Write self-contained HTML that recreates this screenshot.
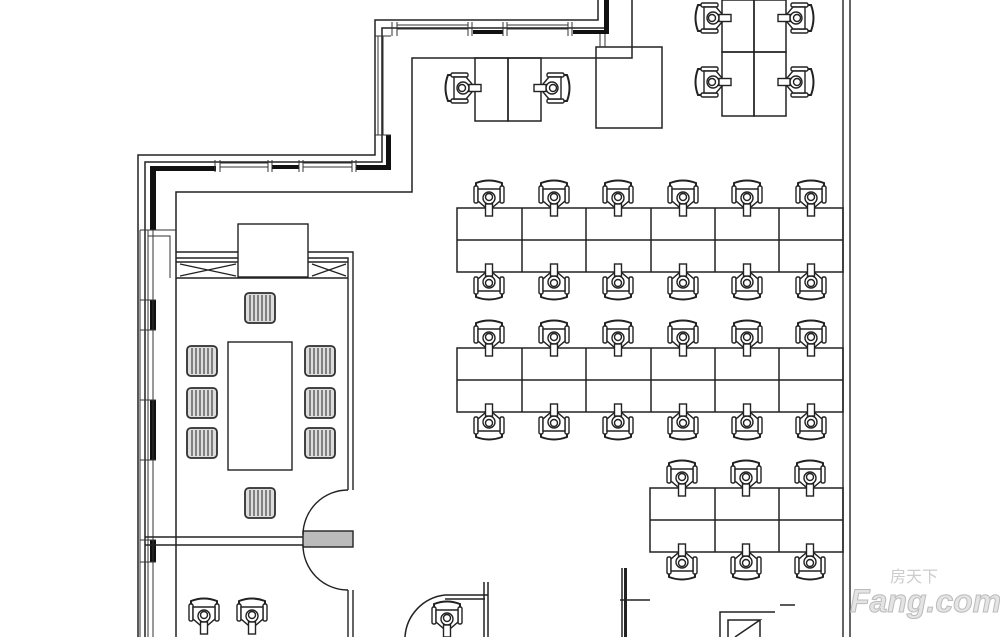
<!DOCTYPE html>
<html><head><meta charset="utf-8"><style>html,body{margin:0;padding:0;background:#fff;}svg{display:block}</style></head>
<body>
<svg width="1000" height="637" viewBox="0 0 1000 637" xmlns="http://www.w3.org/2000/svg">
<defs>
<g id="ch" fill="#fff" stroke="#222" stroke-width="1.4">
  <path d="M-13,-6 L-13,-14 Q0,-19 13,-14 L13,-6" stroke-width="2"/>
  <rect x="-15" y="-11" width="4" height="17" rx="1.5"/>
  <rect x="11" y="-11" width="4" height="17" rx="1.5"/>
  <path d="M-11,-8 L11,-8 L11,4 L4,10 L-4,10 L-11,4 Z"/>
  <circle cx="0" cy="1" r="6"/>
  <circle cx="0" cy="0" r="3.5"/>
  <rect x="-3.5" y="7" width="7" height="12"/>
</g>
<g id="cc" fill="#fff" stroke="#333" stroke-width="1.2">
  <rect x="-15" y="-15" width="30" height="30" rx="4" fill="#ddd"/>
  <path d="M-10,-13V13M-6,-13V13M-2,-13V13M2,-13V13M6,-13V13M10,-13V13" stroke="#444" stroke-width="1.2"/>
  <rect x="-15" y="-15" width="30" height="30" rx="4" fill="none" stroke-width="1.8"/>
</g>
</defs>
<g fill="none" stroke="#222" stroke-width="1.5">
<!-- outer wall top path -->
<path d="M138,637 L138,155 L375,155 L375,20 L598,20 L598,0"/>
<path d="M145,637 L145,162 L382,162 L382,28 L605,28 L605,0"/>
<path d="M176,637 L176,192 L412,192 L412,58 L632,58 L632,0"/>
<path d="M155,172 L155,230"/>
<rect x="596" y="47" width="66" height="81"/>
</g>
<!-- thick black wall parts -->
<g fill="#111">
<rect x="150" y="166" width="66" height="5"/>
<rect x="150" y="166" width="6" height="64"/>
<rect x="272" y="165" width="27" height="4"/>
<rect x="356" y="165" width="34" height="5"/>
<rect x="386" y="135" width="5" height="35"/>
<rect x="473" y="30" width="30" height="4"/>
<rect x="573" y="30" width="35" height="4"/>
<rect x="604" y="0" width="5" height="34"/>
<rect x="150" y="300" width="6" height="30"/>
<rect x="150" y="400" width="6" height="60"/>
<rect x="150" y="540" width="6" height="22"/>
</g>
<!-- window mullions -->
<g fill="none" stroke="#333" stroke-width="1">
<path d="M215,160V172M220,160V172M268,160V172M272,160V172M299,160V172M303,160V172M352,160V172M356,160V172"/>
<path d="M220,163H268M220,167H268M303,163H352M303,167H352"/>
<path d="M392,22V36M397,22V36M468,22V36M472,22V36M503,22V36M507,22V36M568,22V36M572,22V36"/>
<path d="M397,25H468M397,29H468M507,25H568M507,29H568"/>
<path d="M375,36H391M378,36V135M383,36V135M375,135H391"/>
<path d="M600,34V47M605,34V47"/>
<path d="M140,230V637M148,230V637M153,230V637"/>
<path d="M140,230H176M148,236H170V278M140,300H156M140,330H156M140,400H156M140,460H156M140,540H156M140,562H156"/>
</g>
<!-- right wall -->
<g stroke="#333" stroke-width="1.5"><path d="M843,0V637M850,0V637"/></g>
<!-- meeting room -->
<g fill="none" stroke="#222" stroke-width="1.4">
<rect x="238" y="224" width="70" height="53"/>
<path d="M176,252H238M308,252H353V490M176,258H238M308,258H348V490"/>
<path d="M176,278H348"/>
<path d="M176,262H238M308,262H348M180,264L236,276M180,276L236,264M312,264L346,276M312,276L346,264"/>
<rect x="228" y="342" width="64" height="128"/>
<path d="M145,537H345M145,545H345"/>
<rect x="303" y="531" width="50" height="16" fill="#bbb"/>
<path d="M348,490 A45,45 0 0 0 303,535 M303,545 A45,45 0 0 0 348,590"/>
<path d="M348,590V637M353,590V637"/>
</g>
<use href="#cc" x="260" y="308"/>
<use href="#cc" x="260" y="503"/>
<use href="#cc" x="202" y="361"/><use href="#cc" x="202" y="403"/><use href="#cc" x="202" y="443"/>
<use href="#cc" x="320" y="361"/><use href="#cc" x="320" y="403"/><use href="#cc" x="320" y="443"/>
<!-- top pod -->
<g fill="none" stroke="#222" stroke-width="1.5">
<rect x="475" y="58" width="33" height="63"/><rect x="508" y="58" width="33" height="63"/>
<rect x="722" y="0" width="32" height="52"/><rect x="754" y="0" width="32" height="52"/>
<rect x="722" y="52" width="32" height="64"/><rect x="754" y="52" width="32" height="64"/>
</g>
<use href="#ch" transform="translate(462,88) rotate(-90)"/>
<use href="#ch" transform="translate(553,88) rotate(90)"/>
<use href="#ch" transform="translate(712,18) rotate(-90)"/>
<use href="#ch" transform="translate(712,82) rotate(-90)"/>
<use href="#ch" transform="translate(797,18) rotate(90)"/>
<use href="#ch" transform="translate(797,82) rotate(90)"/>
<!-- desk rows -->
<g fill="none" stroke="#222" stroke-width="1.5">
<path d="M457,208H843V272H457Z M457,240H843 M522,208V272M586,208V272M651,208V272M715,208V272M779,208V272"/>
<path d="M457,348H843V412H457Z M457,380H843 M522,348V412M586,348V412M651,348V412M715,348V412M779,348V412"/>
<path d="M650,488H843V552H650Z M650,520H843 M715,488V552M779,488V552"/>
</g>
<g>
<use href="#ch" x="489" y="197"/><use href="#ch" x="554" y="197"/><use href="#ch" x="618" y="197"/><use href="#ch" x="683" y="197"/><use href="#ch" x="747" y="197"/><use href="#ch" x="811" y="197"/>
<use href="#ch" transform="translate(489,283) rotate(180)"/><use href="#ch" transform="translate(554,283) rotate(180)"/><use href="#ch" transform="translate(618,283) rotate(180)"/><use href="#ch" transform="translate(683,283) rotate(180)"/><use href="#ch" transform="translate(747,283) rotate(180)"/><use href="#ch" transform="translate(811,283) rotate(180)"/>
<use href="#ch" x="489" y="337"/><use href="#ch" x="554" y="337"/><use href="#ch" x="618" y="337"/><use href="#ch" x="683" y="337"/><use href="#ch" x="747" y="337"/><use href="#ch" x="811" y="337"/>
<use href="#ch" transform="translate(489,423) rotate(180)"/><use href="#ch" transform="translate(554,423) rotate(180)"/><use href="#ch" transform="translate(618,423) rotate(180)"/><use href="#ch" transform="translate(683,423) rotate(180)"/><use href="#ch" transform="translate(747,423) rotate(180)"/><use href="#ch" transform="translate(811,423) rotate(180)"/>
<use href="#ch" x="682" y="477"/><use href="#ch" x="746" y="477"/><use href="#ch" x="810" y="477"/>
<use href="#ch" transform="translate(682,563) rotate(180)"/><use href="#ch" transform="translate(746,563) rotate(180)"/><use href="#ch" transform="translate(810,563) rotate(180)"/>
</g>
<!-- bottom area -->
<g fill="none" stroke="#222" stroke-width="1.5">
<path d="M405,637 A45,45 0 0 1 445,595 M445,595H488V637M445,599H485 M488,582V637M484,582V637"/>
<path d="M622,568V637M626,568V637 M650,600H620"/>
<path d="M720,637V612H775M728,637V620H760 L735,637M760,620V637"/>
<path d="M780,605H795"/>
</g>
<rect x="624" y="568" width="3" height="69" fill="#222"/>
<use href="#ch" x="447" y="618"/>
<use href="#ch" x="204" y="615"/><use href="#ch" x="252" y="615"/>
<text x="890" y="582" font-family="'Liberation Sans','Noto Sans CJK SC',sans-serif" font-size="16" fill="#ccc">房天下</text>
<text x="850" y="612" font-family="'Liberation Sans',sans-serif" font-size="32" font-style="italic" font-weight="bold" fill="#e4e4e4" stroke="#bbb" stroke-width="1">Fang.com</text>
</svg>
</body></html>
